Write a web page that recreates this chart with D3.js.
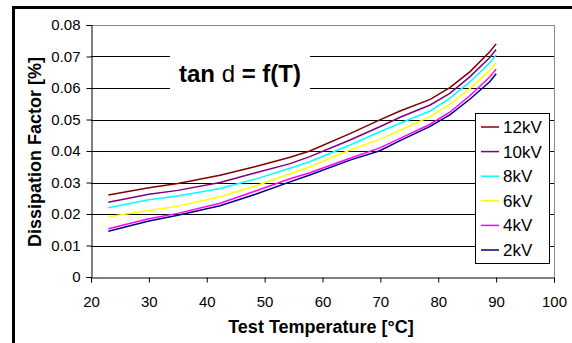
<!DOCTYPE html>
<html lang="en">
<head>
  <meta charset="UTF-8">
  <title>tan d = f(T)</title>
  <style>
    body { margin: 0; background: #fff; }
    svg text { font-family: "Liberation Sans", Arial, sans-serif; }
  </style>
</head>
<body>

<svg id="chart" width="572" height="343"></svg>

<script src="https://d3js.org/d3.v7.min.js"></script>

<script>

    // temperature points
    var temps = [23, 30, 35, 42.3, 48.3, 54.4, 57.8, 64.75, 69.9, 73.4, 78.6, 82, 85.5, 88.9, 90];

    var kv12 = [0.0260, 0.0283, 0.0297, 0.0323, 0.0350, 0.0380, 0.0400, 0.0455, 0.0499, 0.0527, 0.0564, 0.0601, 0.0652, 0.0715, 0.0740];
    var kv10 = [0.0237, 0.0263, 0.0275, 0.0300, 0.0330, 0.0360, 0.0382, 0.0435, 0.0477, 0.0507, 0.0546, 0.0583, 0.0636, 0.0697, 0.0722];
    var kv8  = [0.0220, 0.0245, 0.0257, 0.0281, 0.0310, 0.0345, 0.0366, 0.0419, 0.0461, 0.0488, 0.0527, 0.0567, 0.0620, 0.0680, 0.0705];
    var kv6  = [0.0191, 0.0211, 0.0225, 0.0255, 0.0288, 0.0328, 0.0350, 0.0403, 0.0437, 0.0466, 0.0509, 0.0548, 0.0599, 0.0655, 0.0680];
    var kv4  = [0.0153, 0.0185, 0.0202, 0.0234, 0.0272, 0.0312, 0.0331, 0.0377, 0.0410, 0.0440, 0.0485, 0.0523, 0.0576, 0.0635, 0.0660];
    var kv2  = [0.0145, 0.0178, 0.0196, 0.0226, 0.0262, 0.0302, 0.0324, 0.0371, 0.0401, 0.0433, 0.0478, 0.0515, 0.0565, 0.0620, 0.0645];

    var seriesNames = ["12kV", "10kV", "8kV", "6kV", "4kV", "2kV"];
    var seriesValues = [kv12, kv10, kv8, kv6, kv4, kv2];
    var seriesColors = ["#800000", "#800080", "#00ffff", "#ffff00", "#ff00ff", "#000080"];

    var xTicks = [20, 30, 40, 50, 60, 70, 80, 90, 100];
    var yTicks = [0, 0.01, 0.02, 0.03, 0.04, 0.05, 0.06, 0.07, 0.08];

    var svg = d3.select("#chart");

    var x = d3.scaleLinear().domain([20, 100]).range([91, 554]),
        y = d3.scaleLinear().domain([0, 0.08]).range([277, 25]);

    // outer frame (only top and left visible)
    svg.append("path")
      .attr("d", "M13.5,343V7.5H572")
      .attr("fill", "none")
      .attr("stroke", "#000")
      .attr("stroke-width", 3);

    // gridlines
    svg.append("g").selectAll("line")
      .data(yTicks.slice(1))
      .join("line")
      .attr("x1", x(20)).attr("x2", x(100))
      .attr("y1", function (d) { return Math.round(y(d)) + 0.5; })
      .attr("y2", function (d) { return Math.round(y(d)) + 0.5; })
      .attr("stroke", function (d) { return d === 0.08 ? "#888" : "#000"; });

    // right border of plot area
    svg.append("line")
      .attr("x1", x(100) + 0.5).attr("x2", x(100) + 0.5)
      .attr("y1", y(0.08)).attr("y2", y(0))
      .attr("stroke", "#888");

    // title box hides grid behind it
    svg.append("rect")
      .attr("x", 170).attr("y", 52).attr("width", 140).attr("height", 44)
      .attr("fill", "#fff");

    var title = svg.append("text")
      .attr("x", 240).attr("y", 82)
      .attr("text-anchor", "middle")
      .attr("font-size", 24);
    title.append("tspan").attr("font-weight", "bold").text("tan ");
    title.append("tspan").text("d");
    title.append("tspan").attr("font-weight", "bold").text(" = f(T)");

    // series
    var line = d3.line()
      .x(function (d, i) { return x(temps[i]); })
      .y(function (d) { return y(d); });

    svg.append("g").selectAll("path")
      .data(seriesValues)
      .join("path")
      .attr("d", line)
      .attr("fill", "none")
      .attr("stroke", function (d, i) { return seriesColors[i]; })
      .attr("stroke-width", 1.5);

    // axes
    var xAxis = svg.append("g")
      .attr("transform", "translate(0," + (y(0) + 0.5) + ")")
      .call(d3.axisBottom(x).tickValues(xTicks).tickSize(5).tickPadding(14));

    var yAxis = svg.append("g")
      .attr("transform", "translate(" + (x(20) + 0.5) + ",0)")
      .call(d3.axisLeft(y).tickValues(yTicks).tickSize(5).tickPadding(6)
        .tickFormat(function (d) { return d === 0 ? "0" : d3.format(".2f")(d); }));

    [xAxis, yAxis].forEach(function (g) {
      g.select(".domain").attr("stroke", "#000");
      g.selectAll("line").attr("stroke", "#000");
      g.selectAll("text").attr("font-size", 15).attr("fill", "#000")
        .attr("font-family", "Liberation Sans, Arial, sans-serif");
    });

    // axis titles
    svg.append("text")
      .attr("x", 321).attr("y", 333)
      .attr("text-anchor", "middle")
      .attr("font-size", 18).attr("font-weight", "bold")
      .text("Test Temperature [°C]");

    svg.append("text")
      .attr("transform", "translate(41,152) rotate(-90)")
      .attr("text-anchor", "middle")
      .attr("font-size", 18).attr("font-weight", "bold")
      .text("Dissipation Factor [%]");

    // legend
    var legend = svg.append("g");
    legend.append("rect")
      .attr("x", 475.5).attr("y", 113.5).attr("width", 74).attr("height", 150)
      .attr("fill", "#fff").attr("stroke", "#000");

    var item = legend.selectAll("g.item")
      .data(seriesNames)
      .join("g")
      .attr("class", "item")
      .attr("transform", function (d, i) { return "translate(0," + (127 + i * 24.6) + ")"; });

    item.append("line")
      .attr("x1", 481).attr("x2", 499)
      .attr("stroke", function (d, i) { return seriesColors[i]; })
      .attr("stroke-width", 1.5);

    item.append("text")
      .attr("x", 503).attr("dy", "0.35em")
      .attr("font-size", 17)
      .text(function (d) { return d; });

</script>

</body>
</html>
